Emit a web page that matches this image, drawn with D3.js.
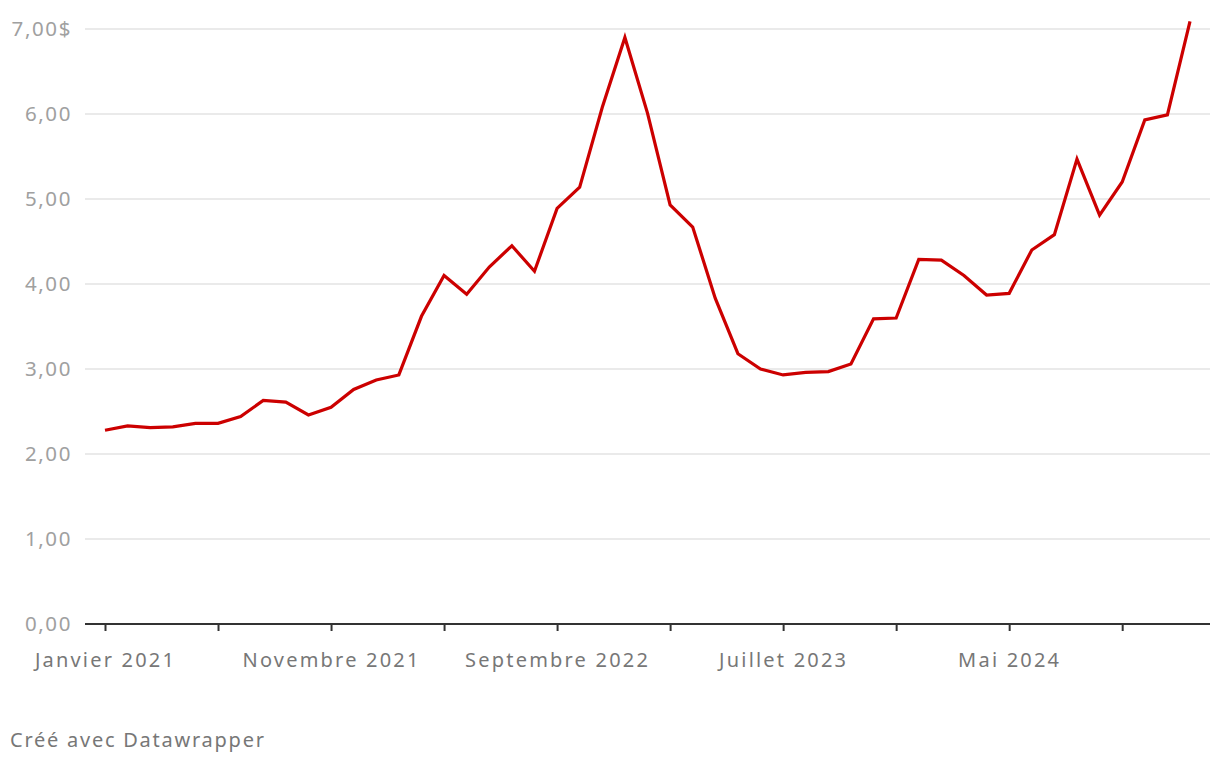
<!DOCTYPE html>
<html><head><meta charset="utf-8">
<script src="https://cdn.jsdelivr.net/npm/d3@7"></script>
<style>body{margin:0;background:#fff;font-family:"Noto Sans",sans-serif;}</style>
</head><body><svg id="c" width="1220" height="762"></svg>
<script>
const startYear = 2021, startMonth = 0;
const values = [2.28,2.33,2.31,2.32,2.36,2.36,2.44,2.63,2.61,2.46,2.55,2.76,2.87,2.93,
3.62,4.10,3.88,4.20,4.45,4.15,4.89,5.14,6.08,6.90,6.01,4.93,4.67,3.83,3.18,3.00,2.93,2.96,2.97,3.06,3.59,3.60,
4.29,4.28,4.10,3.87,3.89,4.40,4.58,5.47,4.81,5.20,5.93,5.99,7.09];
const yTicks = [0,1,2,3,4,5,6,7];
const xTickLabels = ["Janvier 2021","","Novembre 2021","","Septembre 2022","","Juillet 2023","","Mai 2024",""];
const tickEvery = 5;

const svg = d3.select("#c");
const x = d3.scaleLinear().domain([0, values.length-1]).range([105, 1190]);
const y = d3.scaleLinear().domain([0,7]).range([624, 29]);

svg.append("g").selectAll("line").data(yTicks.filter(d=>d>0)).join("line")
  .attr("x1",85).attr("x2",1210).attr("y1",d=>y(d)).attr("y2",d=>y(d))
  .attr("stroke","#e3e3e3").attr("stroke-width",1.5);
const fmt = d=> d3.format(".2f")(d).replace(".",",") + (d===7?"$":"");
svg.append("g").selectAll("text").data(yTicks).join("text")
  .attr("x",72).attr("y",d=>y(d)).attr("dy","0.36em").attr("text-anchor","end")
  .attr("fill","#a0a0a0").attr("font-size",20.5).attr("letter-spacing",1.6).text(fmt);
const tickIdx = d3.range(0, values.length-1, tickEvery);
const xAxis = d3.axisBottom(x).tickValues(tickIdx).tickSize(7).tickPadding(22)
  .tickFormat((d,i)=>xTickLabels[i]);
const gx = svg.append("g").attr("transform","translate(0,624)").call(xAxis);
gx.select(".domain").remove();
gx.append("line").attr("x1",85).attr("x2",1210).attr("stroke","#333").attr("stroke-width",2);
gx.selectAll(".tick line").attr("stroke","#333").attr("stroke-width",2);
gx.selectAll(".tick text").attr("fill","#777").attr("font-size",20).attr("letter-spacing",2.2)
  .attr("font-family","'Noto Sans',sans-serif");
svg.append("path").datum(values)
  .attr("d", d3.line().x((d,i)=>x(i)).y(d=>y(d)))
  .attr("fill","none").attr("stroke","#cc0000").attr("stroke-width",3.2).attr("stroke-linejoin","miter");
svg.append("text").attr("x",10).attr("y",747).attr("fill","#777").attr("font-size",20).attr("letter-spacing",1.75).text("Créé avec Datawrapper");
</script></body></html>
